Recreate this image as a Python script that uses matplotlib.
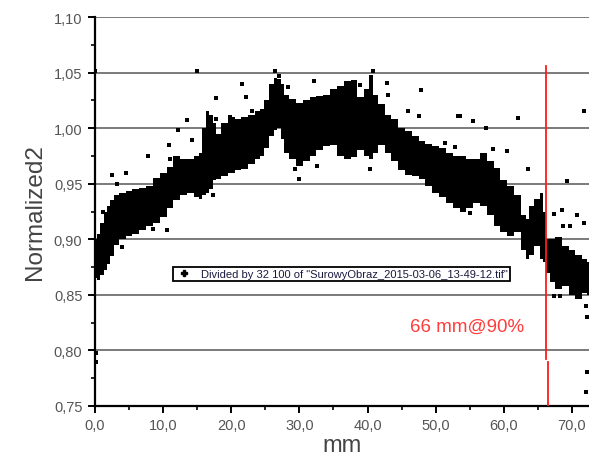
import matplotlib
matplotlib.use("Agg")
import matplotlib.pyplot as plt
from matplotlib.ticker import MultipleLocator, FuncFormatter
from matplotlib.lines import Line2D

plt.rcParams['font.family'] = ['Liberation Sans', 'DejaVu Sans']

# Dense core of the measured scatter: position (mm) with lower / upper edge of the point cloud
core_x = [0, 0.5, 1, 1.5, 2, 2.5, 3, 4, 5, 6, 7, 8, 9, 10, 11, 12, 13, 14, 15, 15.5,
          16, 16.5, 17, 17.5, 18, 19, 20, 21, 22, 23, 24, 24.5, 25, 26, 26.5, 27, 27.5,
          28, 29, 30, 31, 32, 33, 34, 35, 36, 37, 38, 39, 40, 40.5, 41, 42, 43, 44, 45,
          46, 47, 48, 49, 50, 51, 52, 53, 54, 55, 56, 57, 58, 59, 60, 61, 62, 63, 63.5,
          64, 65, 65.5, 66, 66.5, 67, 68, 69, 70, 71, 72, 72.5]
core_low = [0.865, 0.863, 0.868, 0.872, 0.878, 0.885, 0.895, 0.900, 0.903, 0.905, 0.908,
            0.912, 0.915, 0.920, 0.928, 0.935, 0.940, 0.942, 0.938, 0.936,
            0.940, 0.942, 0.945, 0.953, 0.954, 0.957, 0.960, 0.962, 0.963, 0.968, 0.972,
            0.975, 0.982, 0.993, 0.998, 1.000, 0.990,
            0.978, 0.972, 0.966, 0.970, 0.975, 0.980, 0.984, 0.985, 0.975, 0.972, 0.974,
            0.980, 0.975, 0.972, 0.978, 0.985, 0.978, 0.970, 0.962,
            0.958, 0.957, 0.954, 0.948, 0.942, 0.938, 0.933, 0.928, 0.925, 0.928, 0.933,
            0.930, 0.922, 0.912, 0.907, 0.903, 0.907, 0.890, 0.882,
            0.886, 0.894, 0.882, 0.880, 0.870, 0.862, 0.855, 0.858, 0.850, 0.846, 0.852, 0.850]
core_high = [0.900, 0.905, 0.915, 0.925, 0.930, 0.935, 0.940, 0.942, 0.943, 0.945, 0.946,
             0.948, 0.955, 0.960, 0.965, 0.975, 0.972, 0.972, 0.975, 0.978,
             1.000, 1.015, 1.012, 1.005, 0.995, 1.005, 1.010, 1.008, 1.010, 1.012, 1.015,
             1.017, 1.025, 1.040, 1.045, 1.044, 1.040,
             1.030, 1.026, 1.023, 1.025, 1.028, 1.029, 1.030, 1.035, 1.038, 1.042, 1.043,
             1.028, 1.035, 1.048, 1.030, 1.022, 1.012, 1.008, 1.000,
             0.997, 0.993, 0.988, 0.986, 0.984, 0.982, 0.978, 0.975, 0.975, 0.972, 0.972,
             0.978, 0.970, 0.964, 0.953, 0.948, 0.940, 0.922, 0.918,
             0.930, 0.936, 0.942, 0.925, 0.900, 0.900, 0.902, 0.894, 0.890, 0.886, 0.882, 0.880]

# Isolated points outside the dense core
out_x = [0.0, 15.0, 26.4, 27.0, 28.3, 40.8, 21.6, 22.2, 23.0, 17.8, 17.8, 19.8, 13.5, 12.2,
         14.2, 10.9, 11.0, 7.8, 2.5, 4.6, 3.2, 1.2, 4.0, 10.6, 8.5, 17.3, 30.0, 29.4, 32.6,
         32.2, 38.9, 42.9, 43.0, 47.9, 46.0, 47.6, 40.4, 53.3, 51.4, 53.6, 55.5, 57.4, 62.1,
         71.7, 52.9, 58.4, 60.4, 63.6, 69.3, 67.3, 68.6, 70.8, 71.7, 68.7, 69.7, 55.1, 58.0,
         67.3, 68.3, 72.0, 72.2, 72.2, 72.1, 0.2, 0.2]
out_y = [1.051, 1.051, 1.051, 1.047, 1.037, 1.051, 1.040, 1.028, 1.015, 1.027, 1.008, 1.010,
         1.007, 0.998, 0.989, 0.985, 0.972, 0.975, 0.958, 0.960, 0.950, 0.925, 0.893, 0.908,
         0.909, 0.940, 0.954, 0.963, 0.966, 1.042, 1.039, 1.041, 1.030, 1.034, 1.015, 1.011,
         0.963, 1.011, 0.987, 1.011, 1.006, 1.000, 1.009, 1.015, 0.983, 0.981, 0.979, 0.963,
         0.952, 0.923, 0.926, 0.922, 0.915, 0.912, 0.912, 0.924, 0.925, 0.849, 0.849, 0.840,
         0.830, 0.781, 0.763, 0.798, 0.790]

# Marker line (90 % level)
limit_x_top = [66.2, 66.2]
limit_y_top = [1.056, 0.792]
limit_x_bot = [66.45, 66.45]
limit_y_bot = [0.790, 0.750]

legend_label = 'Divided by 32 100 of "SurowyObraz_2015-03-06_13-49-12.tif"'
annotation = "66 mm@90%"

fig = plt.figure(figsize=(5.89, 4.64), dpi=100)
ax = fig.add_axes([95 / 589, 1 - 407 / 464, (589 - 95) / 589, (407 - 18) / 464])

ax.set_xlim(0, 72.5)
ax.set_ylim(0.75, 1.10)

for yv in [0.75, 0.80, 0.85, 0.90, 0.95, 1.00, 1.05, 1.10]:
    ax.axhline(yv, color='#7a7a7a', lw=1.4, zorder=1)

ax.fill_between(core_x, core_low, core_high, step='mid', color='black', lw=0, zorder=3)
ax.scatter(out_x, out_y, marker='s', s=7, color='black', lw=0, zorder=3)

ax.plot(limit_x_top, limit_y_top, color='#ff1a1a', lw=1.3, zorder=4)
ax.plot(limit_x_bot, limit_y_bot, color='#ff1a1a', lw=1.3, zorder=4)
ax.text(46.3, 0.822, annotation, color='#ff3b3b', fontsize=13.5, va='center', ha='left', zorder=5)

ax.spines['top'].set_visible(False)
ax.spines['right'].set_visible(False)
for s in ['left', 'bottom']:
    ax.spines[s].set_linewidth(1.6)
    ax.spines[s].set_color('black')

ax.xaxis.set_major_locator(MultipleLocator(10))
ax.xaxis.set_minor_locator(MultipleLocator(5))
ax.yaxis.set_major_locator(MultipleLocator(0.05))
ax.yaxis.set_minor_locator(MultipleLocator(0.025))
ax.xaxis.set_major_formatter(FuncFormatter(lambda v, p: f"{v:.1f}".replace('.', ',')))
ax.yaxis.set_major_formatter(FuncFormatter(lambda v, p: f"{v:.2f}".replace('.', ',')))
ax.tick_params(which='major', direction='out', length=5, width=1.4, labelsize=10.5,
               labelcolor='#555555', pad=4)
ax.tick_params(which='minor', direction='out', length=3, width=1.2)

ax.set_xlabel('mm', fontsize=17, color='#444444', labelpad=1)
ax.set_ylabel('Normalized2', fontsize=17.5, color='#444444', labelpad=6)

handle = Line2D([], [], marker='P', color='black', lw=0, markersize=4)
leg = ax.legend([handle], [legend_label], loc='center', bbox_to_anchor=(0.499, 0.339),
                fontsize=8, frameon=True, fancybox=False, framealpha=1, edgecolor='black',
                borderpad=0.2, handletextpad=0.8, handlelength=1.5, labelcolor='#1a1a40')
leg.get_frame().set_linewidth(1.3)
leg.set_zorder(6)

fig.savefig('out.png', dpi=100)
